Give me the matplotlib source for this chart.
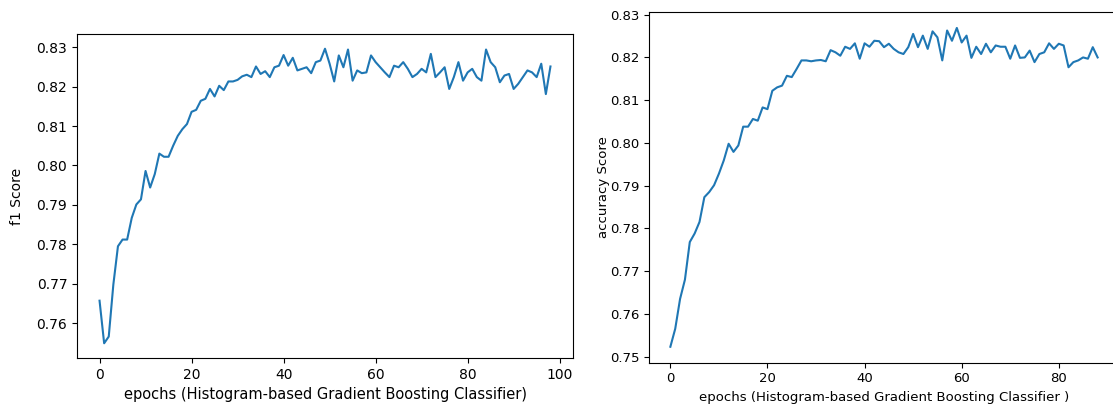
import matplotlib
matplotlib.use("Agg")
import matplotlib.pyplot as plt
import numpy as np

f1_scores = [
    0.7657, 0.7549, 0.7566, 0.7698, 0.7795, 0.7812, 0.7812, 0.7867, 0.7901, 0.7914,
    0.7986, 0.7944, 0.7978, 0.8030, 0.8022, 0.8022, 0.8050, 0.8075, 0.8092, 0.8105,
    0.8136, 0.8141, 0.8164, 0.8169, 0.8194, 0.8175, 0.8202, 0.8191, 0.8213, 0.8213,
    0.8217, 0.8226, 0.8230, 0.8224, 0.8251, 0.8232, 0.8239, 0.8224, 0.8249, 0.8253,
    0.8280, 0.8253, 0.8273, 0.8241, 0.8245, 0.8249, 0.8234, 0.8262, 0.8266, 0.8296,
    0.8258, 0.8213, 0.8279, 0.8249, 0.8294, 0.8215, 0.8241, 0.8234, 0.8236, 0.8279,
    0.8262, 0.8249, 0.8236, 0.8224, 0.8253, 0.8249, 0.8262, 0.8245, 0.8224, 0.8232,
    0.8245, 0.8236, 0.8283, 0.8224, 0.8236, 0.8249, 0.8194, 0.8224, 0.8262, 0.8215,
    0.8236, 0.8245, 0.8224, 0.8215, 0.8294, 0.8262, 0.8249, 0.8211, 0.8228, 0.8232,
    0.8194, 0.8207, 0.8224, 0.8241, 0.8236, 0.8224, 0.8258, 0.8181, 0.8251,
]

accuracy_scores = [
    0.7523, 0.7565, 0.7635, 0.7680, 0.7768, 0.7788, 0.7815, 0.7873, 0.7885, 0.7901,
    0.7928, 0.7959, 0.7998, 0.7979, 0.7994, 0.8038, 0.8038, 0.8056, 0.8052, 0.8083,
    0.8079, 0.8122, 0.8130, 0.8134, 0.8157, 0.8154, 0.8173, 0.8193, 0.8193, 0.8191,
    0.8193, 0.8194, 0.8191, 0.8217, 0.8212, 0.8204, 0.8225, 0.8220, 0.8233, 0.8197,
    0.8233, 0.8225, 0.8239, 0.8238, 0.8224, 0.8232, 0.8220, 0.8212, 0.8208, 0.8224,
    0.8255, 0.8224, 0.8251, 0.8220, 0.8261, 0.8247, 0.8193, 0.8263, 0.8239, 0.8269,
    0.8235, 0.8251, 0.8199, 0.8225, 0.8208, 0.8232, 0.8212, 0.8228, 0.8225, 0.8225,
    0.8197, 0.8228, 0.8199, 0.8200, 0.8216, 0.8189, 0.8208, 0.8212, 0.8233, 0.8220,
    0.8232, 0.8228, 0.8177, 0.8189, 0.8193, 0.8200, 0.8197, 0.8224, 0.8200,
]

x_label_left = "epochs (Histogram-based Gradient Boosting Classifier)"
x_label_right = "epochs (Histogram-based Gradient Boosting Classifier )"

fig = plt.figure(figsize=(11.13, 4.07), dpi=100)

ax1 = fig.add_axes([77 / 1113, (407 - 358) / 407, 496 / 1113, 324 / 407])
ax1.plot(range(len(f1_scores)), f1_scores, color="#1f77b4", lw=1.5)
ax1.set_xlabel(x_label_left, fontsize=10.5)
ax1.set_ylabel("f1 Score", fontsize=10)
ax1.yaxis.set_label_coords((17 - 77) / 496, 0.5)
ax1.xaxis.set_label_coords(0.5, -(395 - 358) / 324)
ax1.xaxis.label.set_va("center")
ax1.yaxis.label.set_va("center")
ax1.tick_params(labelsize=10)
ax1.set_yticks([0.76, 0.77, 0.78, 0.79, 0.80, 0.81, 0.82, 0.83])
ax1.set_yticklabels(["0.76", "0.77", "0.78", "0.79", "0.80", "0.81", "0.82", "0.83"])
ax1.set_xticks([0, 20, 40, 60, 80, 100])

ax2 = fig.add_axes([649 / 1113, (407 - 362.7) / 407, 470 / 1113, 350.7 / 407])
ax2.plot(range(len(accuracy_scores)), accuracy_scores, color="#1f77b4", lw=1.5)
ax2.set_xlabel(x_label_right, fontsize=9.5)
ax2.set_ylabel("accuracy Score", fontsize=9.5)
ax2.yaxis.set_label_coords((603 - 649) / 470, 0.5)
ax2.yaxis.label.set_va("center")
ax2.tick_params(labelsize=9.5)
ax2.set_yticks([0.75, 0.76, 0.77, 0.78, 0.79, 0.80, 0.81, 0.82, 0.83])
ax2.set_yticklabels(["0.75", "0.76", "0.77", "0.78", "0.79", "0.80", "0.81", "0.82", "0.83"])
ax2.set_xticks([0, 20, 40, 60, 80])

fig.savefig("out.png", dpi=100)
